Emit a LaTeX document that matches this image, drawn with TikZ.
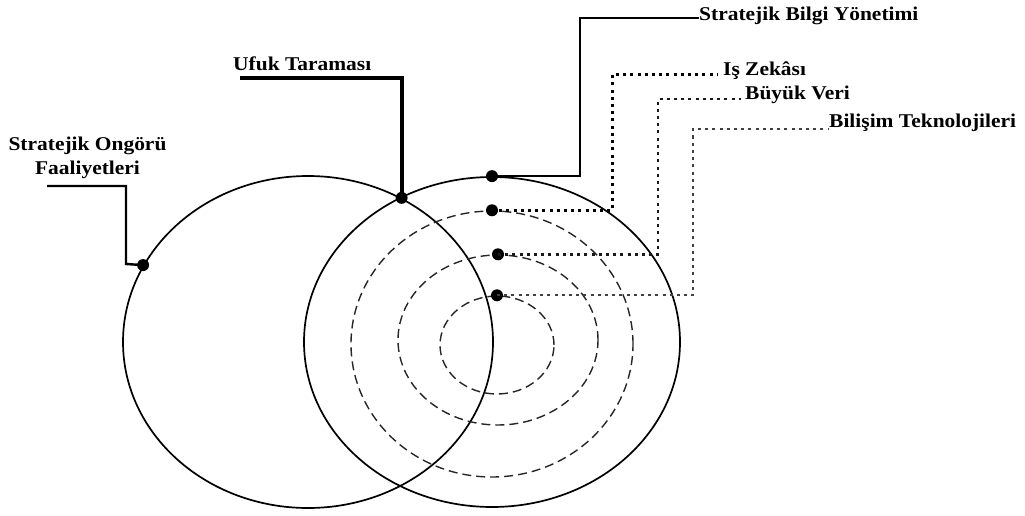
\documentclass[tikz,border=0pt]{standalone}
\usepackage{fontspec}
\setmainfont[FakeStretch=1.1]{Liberation Serif}
\usetikzlibrary{shapes.geometric}

\begin{document}
\begin{tikzpicture}[x=1pt,y=-1pt,
    ring/.style={draw, ellipse, inner sep=0pt, line width=1.7pt},
    wave/.style={draw, ellipse, inner sep=0pt, line width=1.4pt, black!85, dash pattern=on 9pt off 5pt},
    bullet/.style={circle, fill, inner sep=0pt, minimum width=12pt, minimum height=11pt},
    txt/.style={font=\bfseries\fontsize{19.5}{24}\selectfont, inner sep=0pt},
    lead/.style={line width=2.4pt},
    dotline/.style={line width=3pt, dash pattern=on 3pt off 4.2pt},
  ]
  \useasboundingbox (0,0) rectangle (1025,516);

  % circles
  \node[ring, minimum width=370pt, minimum height=332pt] (foresight) at (308,342) {};
  \node[ring, minimum width=376pt, minimum height=330pt] (sbm) at (492,342) {};
  \node[wave, minimum width=282pt, minimum height=266pt] (bi) at (492,344) {};
  \node[wave, minimum width=200pt, minimum height=170pt] (bigdata) at (498,340) {};
  \node[wave, minimum width=114pt, minimum height=98pt] (it) at (497,345) {};

  % points on the circles
  \node[bullet] (foresightDot) at (foresight.155) {};
  \node[bullet] (scanDot) at (foresight.57) {};
  \node[bullet] (sbmDot) at (sbm.north) {};
  \node[bullet] (biDot) at (bi.north) {};
  \node[bullet] (bigdataDot) at (bigdata.north) {};
  \node[bullet] (itDot) at (it.north) {};

  % labels
  \node[txt, align=center, anchor=north] (foresightLbl) at (87.5,136.5) {Stratejik Ongörü\\Faaliyetleri};
  \node[txt, anchor=base west] (scanLbl) at (233,71) {Ufuk Taraması};
  \node[txt, anchor=base west] (sbmLbl) at (699,21) {Stratejik Bilgi Yönetimi};
  \node[txt, anchor=base west] (biLbl) at (723,76) {Iş Zekâsı};
  \node[txt, anchor=base west] (bigdataLbl) at (745,100) {Büyük Veri};
  \node[txt, anchor=base west] (itLbl) at (829,128) {Bilişim Teknolojileri};

  % leaders
  \coordinate (foresightEnd) at (47,186);
  \coordinate (foresightBend) at (126,264);
  \draw[lead] (foresightEnd) -| (foresightBend) -- (foresightDot.center);

  \coordinate (scanEnd) at (240,78);
  \draw[lead, line width=3.8pt] (scanEnd) -| (scanDot.center);

  \coordinate (sbmBend) at (580,18);
  \draw[lead] (sbmDot.center) -| (sbmBend) -- (sbmBend -| sbmLbl.west);

  \coordinate (biBend) at (612,75);
  \draw[dotline] (biDot.center) -| (biBend) -- ([xshift=-5pt]biBend -| biLbl.west);

  \coordinate (bigdataBend) at (658,99);
  \draw[dotline, black!90, line width=2.7pt] (bigdataDot.center) -| (bigdataBend) -- ([xshift=-4pt]bigdataBend -| bigdataLbl.west);

  \coordinate (itBend) at (693,129);
  \draw[dotline, black!75, line width=2.2pt] (itDot.center) -| (itBend) -- ([xshift=-1pt]itBend -| itLbl.west);
\end{tikzpicture}
\end{document}
